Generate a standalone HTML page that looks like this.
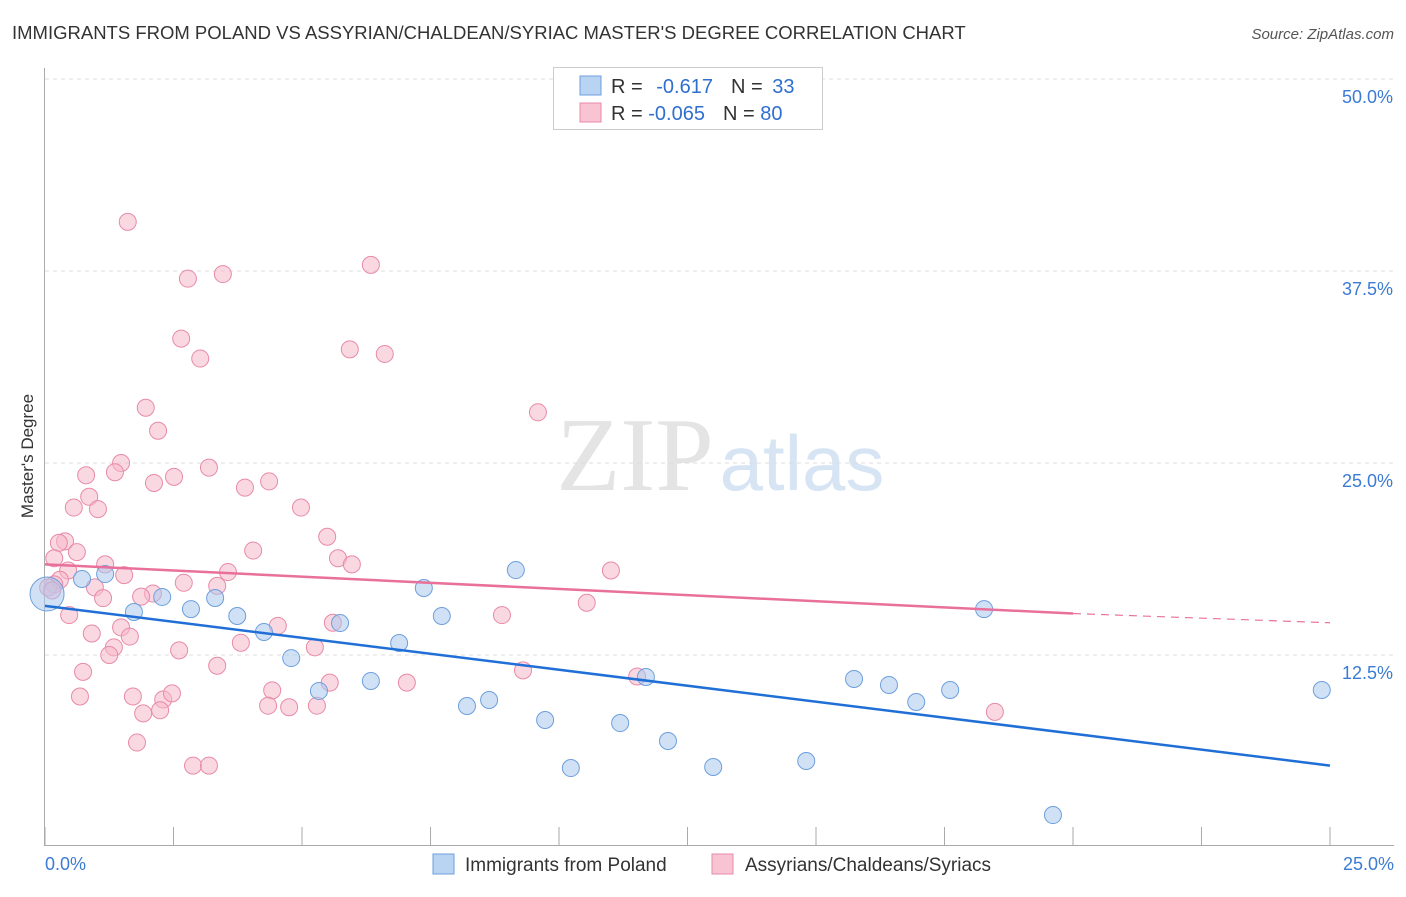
<!DOCTYPE html>
<html><head><meta charset="utf-8"><style>
body{margin:0;background:#fff;font-family:"Liberation Sans",sans-serif}
</style></head><body>
<svg id="chart" width="1406" height="892" xmlns="http://www.w3.org/2000/svg">
<text x="12" y="39" font-size="18.5" fill="#333">IMMIGRANTS FROM POLAND VS ASSYRIAN/CHALDEAN/SYRIAC MASTER'S DEGREE CORRELATION CHART</text>
<text x="1394" y="39" font-size="15" fill="#555" font-style="italic" text-anchor="end">Source: ZipAtlas.com</text>
<text x="33" y="456" font-size="17" fill="#333" text-anchor="middle" transform="rotate(-90 33 456)">Master's Degree</text>
<text x="635" y="490" font-size="105" fill="#e4e4e4" font-family="Liberation Serif,serif" text-anchor="middle">ZIP</text>
<text x="802" y="490" font-size="78" fill="#d6e4f4" text-anchor="middle">atlas</text>
<g id="grid"></g><g id="axes"></g><g id="pts"></g><g id="lines"></g>
<g>
<rect x="553.5" y="67.5" width="269" height="62" fill="#fff" stroke="#ccc"/>
<rect x="580" y="76" width="21" height="19" fill="#b9d3f3" stroke="#6d9fdc"/>
<rect x="580" y="103" width="21" height="19" fill="#f8c4d4" stroke="#e88aa8"/>
<text x="611" y="93" font-size="20" fill="#333">R = <tspan fill="#2f6fd0" dx="8">-0.617</tspan><tspan dx="18" fill="#333">N = </tspan><tspan fill="#2f6fd0" dx="4">33</tspan></text>
<text x="611" y="120" font-size="20" fill="#333">R = <tspan fill="#2f6fd0">-0.065</tspan><tspan dx="18" fill="#333">N = </tspan><tspan fill="#2f6fd0">80</tspan></text>
</g>
<g>
<rect x="433" y="854" width="21" height="20" fill="#b9d3f3" stroke="#6d9fdc"/>
<text x="465" y="871" font-size="19" fill="#333">Immigrants from Poland</text>
<rect x="712" y="854" width="21" height="20" fill="#f8c4d4" stroke="#e88aa8"/>
<text x="745" y="871" font-size="19" fill="#333">Assyrians/Chaldeans/Syriacs</text>
</g>
</svg>
<script>
const yTicks=[12.5,25,37.5,50];
const yTickLabels=["12.5%","25.0%","37.5%","50.0%"];
const xTickLabels=["0.0%","25.0%"];
const blueX=[0.04,0.72,1.17,1.73,2.28,2.84,3.31,3.74,4.26,4.79,5.33,5.74,6.34,6.89,7.37,7.72,8.21,8.64,9.16,9.73,10.23,11.19,11.69,12.12,13.0,14.81,15.74,16.42,16.95,17.61,18.27,19.61,24.84];
const blueY=[16.47,17.45,17.77,15.3,16.28,15.49,16.21,15.04,14.0,12.3,10.16,14.58,10.81,13.28,16.86,15.04,9.18,9.57,18.03,8.27,5.14,8.07,11.07,6.9,5.21,5.6,10.94,10.55,9.44,10.22,15.49,2.08,10.22];
const pinkX=[1.61,2.78,3.46,6.34,2.65,3.02,5.93,6.61,1.96,2.2,9.59,1.48,1.36,3.19,0.8,2.12,2.51,3.89,4.36,0.86,0.56,1.03,4.98,0.39,0.27,0.62,5.49,4.05,0.18,1.17,5.7,5.97,3.56,1.54,0.45,11.01,0.29,0.18,0.06,2.7,3.35,0.97,2.1,1.87,1.13,10.54,0.47,8.89,0.91,4.53,5.6,1.48,1.65,3.81,1.34,1.25,2.61,5.25,0.74,3.35,9.3,11.52,5.54,7.04,0.68,4.42,1.71,2.3,2.47,4.34,4.75,5.29,1.91,2.24,18.48,1.79,2.88,3.19,0.14];
const pinkY=[40.7,37.0,37.3,37.9,33.1,31.8,32.4,32.1,28.6,27.1,28.3,25.0,24.4,24.7,24.2,23.7,24.1,23.4,23.8,22.8,22.1,22.0,22.1,19.9,19.8,19.2,20.2,19.3,18.8,18.4,18.8,18.4,17.9,17.7,18.0,18.0,17.4,17.1,16.9,17.2,17.0,16.9,16.5,16.3,16.2,15.9,15.1,15.1,13.9,14.4,14.6,14.3,13.7,13.3,13.0,12.5,12.8,13.0,11.4,11.8,11.5,11.1,10.7,10.7,9.8,10.2,9.8,9.6,10.0,9.2,9.1,9.2,8.7,8.9,8.8,6.8,5.3,5.3,16.7];
const blueTrend=[0,15.7,25,5.3];
const pinkTrend=[0,18.4,20,15.2,25,14.6];
const X=v=>45+v/25*1285, Y=v=>847-v/12.5*192;
const NS="http://www.w3.org/2000/svg";
function mk(tag,attrs,parent){const e=document.createElementNS(NS,tag);for(const k in attrs)e.setAttribute(k,attrs[k]);document.getElementById(parent).appendChild(e);return e;}
yTicks.forEach((t,i)=>{
 const l=mk('line',{x1:45,x2:1394,y1:Y(t),y2:Y(t),stroke:'#ddd','stroke-dasharray':'4,4'},'grid');
 
 
 const tx=mk('text',{x:1393,y:Y(t)+24,'font-size':18,fill:'#3b7bd4','text-anchor':'end'},'grid');
 tx.textContent=yTickLabels[i];
 
 
});
const ax=mk('line',{x1:44.5,x2:44.5,y1:68,y2:846,stroke:'#aaa'},'axes');


const bx=mk('line',{x1:45,x2:1394,y1:845.5,y2:845.5,stroke:'#aaa'},'axes');


for(let i=0;i<=10;i++){const t=mk('line',{x1:X(i*2.5),x2:X(i*2.5),y1:827,y2:846,stroke:'#aaa'},'axes');
 
 }
[[0,'start',45],[25,'end',1394]].forEach((d,i)=>{const t=mk('text',{x:d[2],y:870,'font-size':18,fill:'#3b7bd4','text-anchor':d[1]},'axes');t.textContent=xTickLabels[i];
 
 });
pinkX.forEach((x,i)=>{const c=mk('circle',{cx:X(x),cy:Y(pinkY[i]),r:8.5,fill:'#f5b8cb','fill-opacity':0.55,stroke:'#e88aa8','stroke-width':1},'pts');
 
 });
blueX.forEach((x,i)=>{const c=mk('circle',{cx:X(x),cy:Y(blueY[i]),r:i===0?17:8.5,fill:'#aac8ee','fill-opacity':0.55,stroke:'#6d9fdc','stroke-width':1},'pts');
 
 });
const bl=mk('line',{x1:X(blueTrend[0]),y1:Y(blueTrend[1]),x2:X(blueTrend[2]),y2:Y(blueTrend[3]),stroke:'#1f6fd6','stroke-width':2.5},'lines');


const pl=mk('line',{x1:X(pinkTrend[0]),y1:Y(pinkTrend[1]),x2:X(pinkTrend[2]),y2:Y(pinkTrend[3]),stroke:'#e8709a','stroke-width':2.5},'lines');


const pd=mk('line',{x1:X(pinkTrend[2]),y1:Y(pinkTrend[3]),x2:X(pinkTrend[4]),y2:Y(pinkTrend[5]),stroke:'#e8709a','stroke-width':1.2,'stroke-dasharray':'8,6'},'lines');


</script>
</body></html>
